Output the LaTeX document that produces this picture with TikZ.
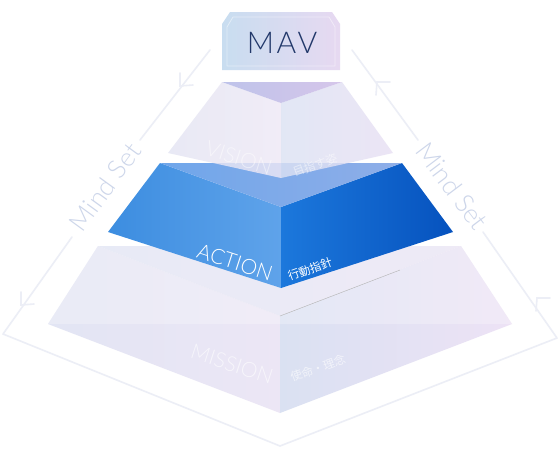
\documentclass[tikz,border=0pt]{standalone}
\usepackage{fontspec}
\IfFontExistsTF{Lato Light}{\setmainfont{Lato Light}}{\setmainfont{Lato}}
\newfontfamily\jp{Noto Sans CJK JP}
\usetikzlibrary{calc}
\definecolor{frameline}{HTML}{ECEEF6}
\definecolor{mindtxt}{HTML}{CDD6EA}
\definecolor{mavtxt}{HTML}{22386A}
\definecolor{mavL}{HTML}{C8DDF0}
\definecolor{mavR}{HTML}{E7D9F1}
\definecolor{vtopL}{HTML}{BEC3EA}
\definecolor{vtopR}{HTML}{D6C6EA}
\definecolor{vleftL}{HTML}{E4E5F3}
\definecolor{vleftR}{HTML}{EEE8F6}
\definecolor{vrightL}{HTML}{DCE2F3}
\definecolor{vrightR}{HTML}{E8E0F4}
\definecolor{aleftL}{HTML}{3C8DE0}
\definecolor{aleftR}{HTML}{5FA3EA}
\definecolor{arightL}{HTML}{1C78DC}
\definecolor{arightR}{HTML}{0652BE}
\definecolor{atopL}{HTML}{6FA6EA}
\definecolor{atopR}{HTML}{8FAEE8}
\definecolor{mleftL}{HTML}{E2E5F4}
\definecolor{mleftR}{HTML}{ECE6F5}
\definecolor{mrightL}{HTML}{DAE1F2}
\definecolor{mrightR}{HTML}{EDE2F5}
\definecolor{mtopL}{HTML}{D9DEF0}
\definecolor{mtopR}{HTML}{E4DCF0}
\tikzset{
  frame/.style={draw=frameline, line width=1.6pt, line cap=round, line join=round},
  chev/.style={draw=frameline, line width=1.6pt, line cap=round},
  mindset/.style={text=mindtxt, font=\fontsize{26}{28}\selectfont, inner sep=0pt},
  tierlabel/.style={font=\fontsize{21}{23}\selectfont, inner sep=0pt},
  tierjp/.style={font=\jp\fontsize{11.5}{13}\selectfont, inner sep=0pt},
}
\begin{document}
\begin{tikzpicture}[x=1pt,y=-1pt]
\useasboundingbox (0,0) rectangle (560,448);
\fill[white] (0,0) rectangle (560,448);

% outer frame
\coordinate (LT) at (210,50);
\coordinate (LG1) at (140,140);
\coordinate (LG2) at (72,237);
\coordinate (LC) at (3,334);
\coordinate (BV) at (280,446);
\coordinate (RC) at (557,338);
\coordinate (RG2) at (483,232);
\coordinate (RG1) at (418,140);
\coordinate (RT) at (352,50);
\draw[frame] (LT) -- (LG1);
\draw[frame] (LG2) -- (LC) -- (BV) -- (RC) -- (RG2);
\draw[frame] (RG1) -- (RT);
% chevrons (arrow heads)
\coordinate (c1) at (180,86);
\draw[chev] ($(c1)+(0,-13)$) -- (c1) -- ($(c1)+(13,-1)$);
\coordinate (c2) at (21,305);
\draw[chev] ($(c2)+(0,-13)$) -- (c2) -- ($(c2)+(13,-1)$);
\coordinate (c3) at (377,82);
\draw[chev] ($(c3)+(-1,13)$) -- (c3) -- ($(c3)+(13,0)$);
\coordinate (c4) at (537,298);
\draw[chev] ($(c4)+(-1,13)$) -- (c4) -- ($(c4)+(13,0)$);

\node[mindset, rotate=54] (msL) at (105,187) {Mind Set};
\node[mindset, rotate=-53] (msR) at (452,186) {Mind Set};

% MISSION tier
\shade[left color=mleftL, right color=mleftR] (98,246) -- (280,316) -- (280,413) -- (48,324) -- cycle;
\shade[left color=mrightL, right color=mrightR] (461,246) -- (512,324) -- (280,413) -- (280,316) -- cycle;
\shade[left color=mtopL, right color=mtopR, opacity=0.8] (98,246) -- (461,246) -- (280,316) -- cycle;
\fill[white, opacity=0.25] (98,246) -- (461,246) -- (512,324) -- (48,324) -- cycle;
\draw[gray!60, line width=0.4pt] (280,316) -- (400,270);

% ACTION tier
\shade[left color=aleftL, right color=aleftR] (160,163) -- (281,207) -- (281,288) -- (108,232) -- cycle;
\shade[left color=arightL, right color=arightR] (402,163) -- (453,232) -- (281,288) -- (281,207) -- cycle;
\shade[left color=atopL, right color=atopR] (160,163) -- (402,163) -- (281,207) -- cycle;

% VISION tier
\begin{scope}[opacity=0.82]
\shade[left color=vleftL, right color=vleftR] (222,82) -- (281,103) -- (281,178) -- (168,153) -- cycle;
\shade[left color=vrightL, right color=vrightR] (342,82) -- (393,153) -- (281,178) -- (281,103) -- cycle;
\end{scope}
\shade[left color=vtopL, right color=vtopR] (222,82) -- (342,82) -- (281,103) -- cycle;

% MAV box
\shade[left color=mavL, right color=mavR] (222,24) -- (230,12) -- (332,12) -- (340,24) -- (340,70) -- (222,70) -- cycle;
\draw[white, opacity=0.45, line width=0.8pt] (227,27) -- (233,17) -- (329,17) -- (335,27) -- (335,66) -- (227,66) -- cycle;
\node[text=mavtxt, font=\addfontfeatures{LetterSpace=9}\fontsize{30}{32}\selectfont, inner sep=0pt] (mav) at (282,43) {MAV};

% labels
\node[tierlabel, text=white, opacity=0.5, rotate=-18] (vis) at (239,158) {VISION};
\node[tierjp, text=white, opacity=0.5, rotate=20] (visjp) at (315,165) {目指す姿};
\node[tierlabel, text=white, rotate=-18] (act) at (235,262) {ACTION};
\node[tierjp, text=white, rotate=20] (actjp) at (310,269) {行動指針};
\node[tierlabel, text=white, opacity=0.6, rotate=-18] (mis) at (232,364) {MISSION};
\node[tierjp, text=white, opacity=0.6, rotate=20] (misjp) at (318,368) {使命・理念};
\end{tikzpicture}
\end{document}
